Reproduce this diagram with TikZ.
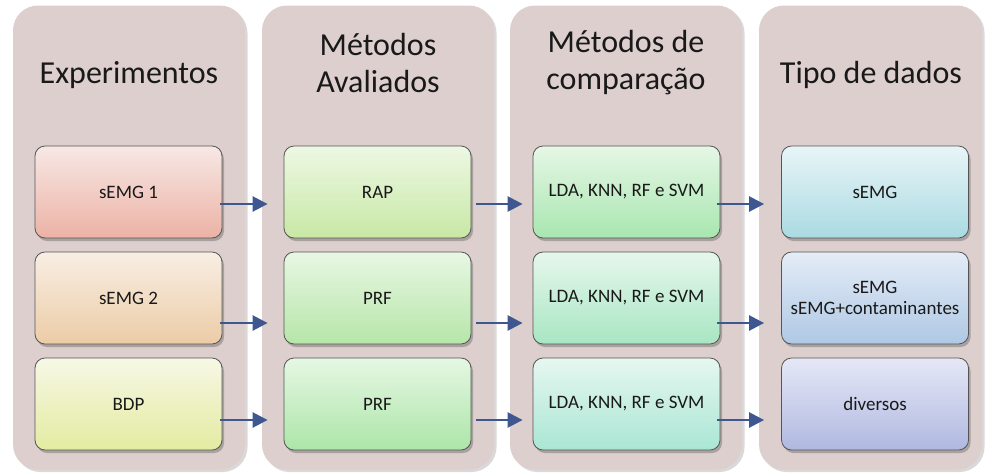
\documentclass[tikz,border=0pt]{standalone}
\usepackage{fontspec}
\setmainfont{Carlito}
\usetikzlibrary{arrows.meta,shadows}

\definecolor{panelfill}{RGB}{220,207,205}
\definecolor{boxline}{RGB}{85,85,85}
\definecolor{arrowblue}{RGB}{63,87,145}

\tikzset{
  panel/.style={fill=panelfill, rounded corners=25pt, minimum width=232pt,
    minimum height=464pt, inner sep=0pt,
    drop shadow={shadow xshift=2.5pt, shadow yshift=-2.5pt, opacity=0.25, fill=black!60}},
  heading/.style={font=\fontsize{32}{37}\selectfont, align=center, text=black!90},
  item/.style={draw=boxline, line width=0.8pt, rounded corners=10pt,
    minimum width=187pt, minimum height=92pt, inner sep=2pt, align=center,
    font=\fontsize{19}{21.5}\selectfont, text=black!90,
    drop shadow={shadow xshift=2pt, shadow yshift=-3pt, opacity=0.35, fill=black!70}},
  link/.style={draw=arrowblue, line width=2.6pt,
    -{Triangle[length=15pt,width=15pt]}},
}

\begin{document}
\begin{tikzpicture}[x=1pt,y=-1pt]
\useasboundingbox (0,0) rectangle (985,475);

% column panels
\node[panel] (p1) at (129,237.5) {};
\node[panel] (p2) at (378,237.5) {};
\node[panel] (p3) at (626,237.5) {};
\node[panel, minimum width=223pt] (p4) at (870.5,237.5) {};

% column headings
\node[heading] (h1) at (129,75) {Experimentos};
\node[heading] (h2) at (378,63) {Métodos\\Avaliados};
\node[heading] (h3) at (626,63) {Métodos de\\comparação};
\node[heading] (h4) at (871,75) {Tipo de dados};

% experiments
\node[item, top color={rgb,255:red,247;green,232;blue,229}, bottom color={rgb,255:red,236;green,178;blue,165}] (e1) at (128.5,192) {sEMG 1};
\node[item, top color={rgb,255:red,248;green,238;blue,228}, bottom color={rgb,255:red,236;green,204;blue,166}] (e2) at (128.5,298) {sEMG 2};
\node[item, top color={rgb,255:red,246;green,248;blue,230}, bottom color={rgb,255:red,228;green,235;blue,160}] (e3) at (128.5,404) {BDP};

% evaluated methods
\node[item, top color={rgb,255:red,237;green,248;blue,228}, bottom color={rgb,255:red,200;green,232;blue,165}] (m1) at (377.5,192) {RAP};
\node[item, top color={rgb,255:red,232;green,247;blue,228}, bottom color={rgb,255:red,182;green,230;blue,168}] (m2) at (377.5,298) {PRF};
\node[item, top color={rgb,255:red,230;green,247;blue,228}, bottom color={rgb,255:red,172;green,230;blue,168}] (m3) at (377.5,404) {PRF};

% comparison methods
\node[item, top color={rgb,255:red,230;green,247;blue,230}, bottom color={rgb,255:red,168;green,230;blue,175}] (c1) at (626.5,192) {LDA, KNN, RF e SVM};
\node[item, top color={rgb,255:red,230;green,247;blue,236}, bottom color={rgb,255:red,168;green,230;blue,195}] (c2) at (626.5,298) {LDA, KNN, RF e SVM};
\node[item, top color={rgb,255:red,230;green,247;blue,240}, bottom color={rgb,255:red,170;green,230;blue,212}] (c3) at (626.5,404) {LDA, KNN, RF e SVM};

% data types
\node[item, top color={rgb,255:red,232;green,245;blue,248}, bottom color={rgb,255:red,170;green,218;blue,226}] (t1) at (875,192) {sEMG};
\node[item, top color={rgb,255:red,228;green,236;blue,247}, bottom color={rgb,255:red,175;green,200;blue,228}] (t2) at (875,298) {sEMG\\sEMG+contaminantes};
\node[item, top color={rgb,255:red,230;green,232;blue,247}, bottom color={rgb,255:red,176;green,184;blue,224}] (t3) at (875,404) {diversos};

% row 1 links
\draw[link] ([xshift=-2pt,yshift=-12pt]e1.east) -- ([xshift=-16pt,yshift=-12pt]m1.west);
\draw[link] ([xshift=5pt,yshift=-12pt]m1.east) -- ([xshift=-10pt,yshift=-12pt]c1.west);
\draw[link] ([xshift=-3pt,yshift=-12pt]c1.east) -- ([xshift=-17pt,yshift=-12pt]t1.west);
% row 2 links
\draw[link] ([xshift=-2pt,yshift=-25pt]e2.east) -- ([xshift=-16pt,yshift=-25pt]m2.west);
\draw[link] ([xshift=5pt,yshift=-25pt]m2.east) -- ([xshift=-10pt,yshift=-25pt]c2.west);
\draw[link] ([xshift=-3pt,yshift=-25pt]c2.east) -- ([xshift=-17pt,yshift=-25pt]t2.west);
% row 3 links
\draw[link] ([xshift=-2pt,yshift=-16pt]e3.east) -- ([xshift=-16pt,yshift=-16pt]m3.west);
\draw[link] ([xshift=5pt,yshift=-16pt]m3.east) -- ([xshift=-10pt,yshift=-16pt]c3.west);
\draw[link] ([xshift=-3pt,yshift=-16pt]c3.east) -- ([xshift=-17pt,yshift=-16pt]t3.west);
\end{tikzpicture}
\end{document}
